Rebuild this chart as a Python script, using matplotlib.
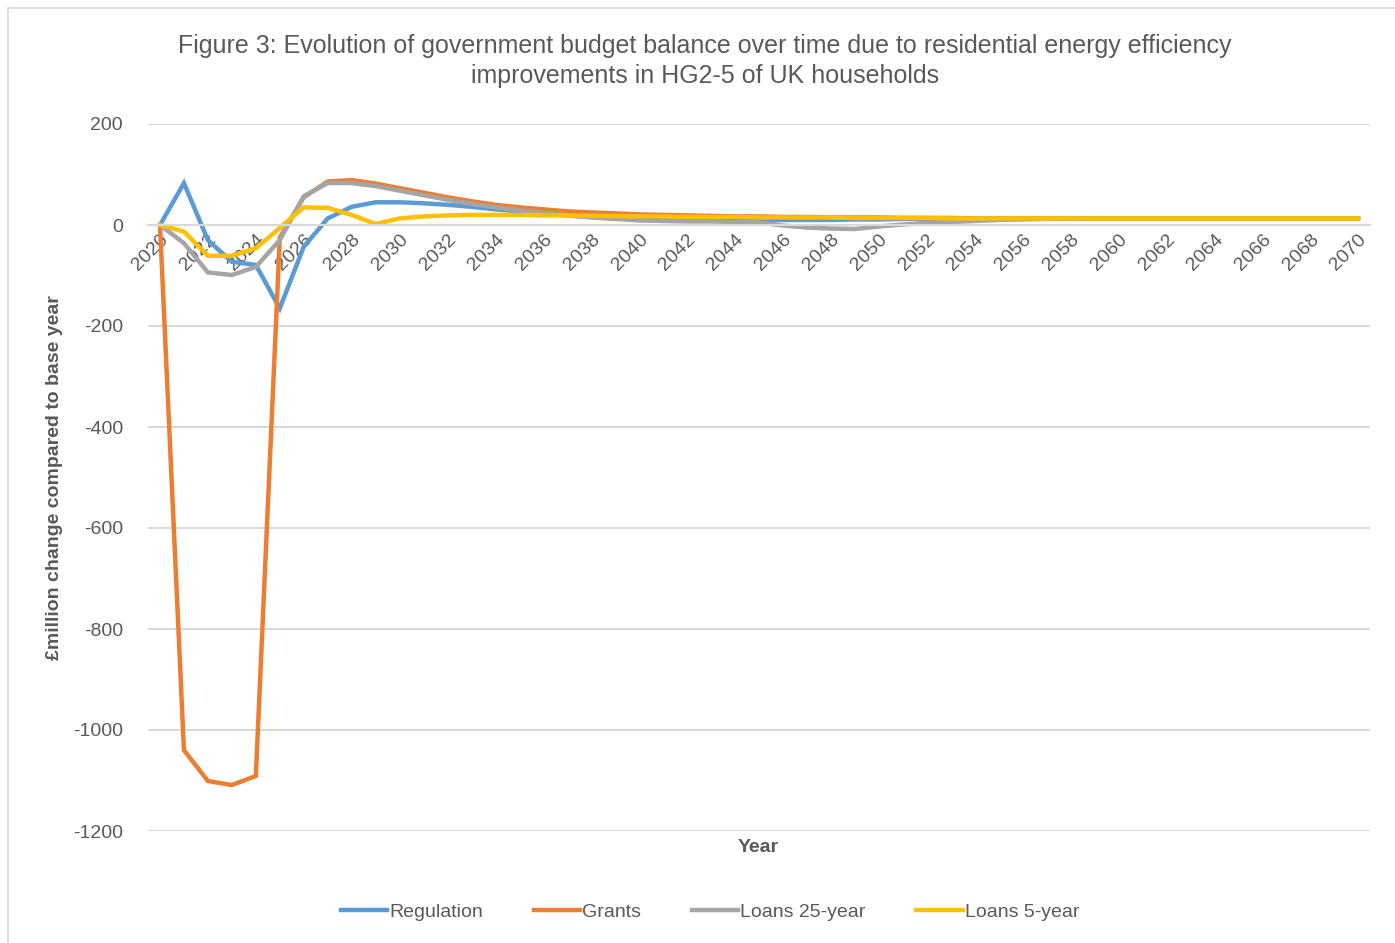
import matplotlib
matplotlib.use("Agg")
import matplotlib.pyplot as plt
from matplotlib.lines import Line2D
from matplotlib import font_manager

years = list(range(2020, 2071))

regulation = [0, 83, -30, -73, -79, -165, -43, 13, 36, 45,
              45, 43, 40, 36, 31, 27, 23, 19, 16, 13,
              11, 10, 9, 9, 9, 9, 10, 10, 10, 11,
              11, 12, 12, 12, 12, 12, 13, 13, 13, 13,
              13, 13, 13, 13, 13, 13, 13, 13, 13, 13, 13]

grants = [0, -1040, -1101, -1109, -1091, -25, 55, 86, 89, 82,
          73, 64, 55, 47, 40, 35, 31, 27, 25, 23,
          21, 20, 19, 18, 17, 17, 16, 16, 15, 15,
          15, 14, 14, 14, 13, 13, 13, 13, 13, 13,
          13, 13, 13, 13, 13, 13, 13, 13, 13, 13, 13]

loans_25 = [0, -36, -94, -99, -83, -30, 57, 83, 83, 77,
            68, 59, 50, 42, 35, 29, 24, 19, 15, 12,
            9, 8, 7, 7, 6, 5, -1, -5, -7, -8,
            -3, 1, 4, 6, 8, 10, 11, 12, 13, 13,
            13, 13, 13, 13, 13, 13, 13, 13, 13, 13, 13]

loans_5 = [0, -13, -61, -61, -46, -6, 35, 34, 20, 2,
           13, 17, 19, 20, 20, 20, 19, 19, 18, 18,
           17, 17, 16, 16, 16, 15, 15, 15, 15, 14,
           14, 14, 14, 13, 13, 13, 13, 13, 13, 13,
           13, 13, 13, 13, 13, 13, 13, 13, 13, 13, 13]

series = [("Regulation", regulation, "#5B9BD5"),
          ("Grants", grants, "#ED7D31"),
          ("Loans 25-year", loans_25, "#A5A5A5"),
          ("Loans 5-year", loans_5, "#FFC000")]

installed = {f.name for f in font_manager.fontManager.ttflist}
narrow = "Liberation Sans Narrow" if "Liberation Sans Narrow" in installed else "Liberation Sans"
plt.rcParams["font.family"] = [narrow, "DejaVu Sans"]

TEXT = "#595959"

fig = plt.figure(figsize=(13.95, 9.43), dpi=100)
ax = fig.add_axes([148 / 1395, 1 - 831 / 943, (1370 - 148) / 1395, (831 - 124) / 943])

# category axis crosses at zero, like the original
for s in ["top", "right", "left"]:
    ax.spines[s].set_visible(False)
ax.spines["bottom"].set_position(("data", 0))
ax.spines["bottom"].set_color("#D9D9D9")
ax.spines["bottom"].set_linewidth(1.5)

for name, vals, color in series:
    ax.plot(years, vals, color=color, lw=3.2, label=name, solid_joinstyle="miter")

ax.set_xlim(2019.5, 2070.5)
ax.set_ylim(-1200, 200)
ax.set_yticks(range(-1200, 201, 200))
ax.set_yticklabels([str(v) for v in range(-1200, 201, 200)], fontsize=14, color=TEXT)
ax.yaxis.grid(True, color="#D9D9D9", lw=1.5)
ax.set_axisbelow(True)

xt = years[::2]
ax.set_xticks(xt)
ax.set_xticklabels([str(y) for y in xt], rotation=45, ha="right", va="top",
                   rotation_mode="anchor", fontsize=14, color=TEXT)
ax.tick_params(axis="both", length=0)
ax.tick_params(axis="y", pad=18)
ax.tick_params(axis="x", pad=4)

fig.text(758 / 1395, 1 - 848 / 943, "Year", ha="center", va="center",
         fontsize=14, fontweight="bold", color=TEXT)
fig.text(55 / 1395, 1 - 478 / 943, "£million change compared to base year", ha="center",
         va="center", rotation=90, fontsize=14, fontweight="bold", color=TEXT)

fig.text(705 / 1395, 1 - 46 / 943, "Figure 3: Evolution of government budget balance over time due to residential energy efficiency",
         ha="center", va="center", fontsize=18, color=TEXT)
fig.text(705 / 1395, 1 - 76 / 943, "improvements in HG2-5 of UK households",
         ha="center", va="center", fontsize=18, color=TEXT)

leg = fig.legend(loc="center", bbox_to_anchor=(710 / 1395, 1 - 912 / 943), ncol=4,
                 frameon=False, fontsize=14, handlelength=2.4, handletextpad=0.1,
                 columnspacing=2.6)
for t in leg.get_texts():
    t.set_color(TEXT)

fig.add_artist(Line2D([8 / 1395, 1.0], [1 - 8 / 943, 1 - 8 / 943], color="#D9D9D9", lw=1.2))
fig.add_artist(Line2D([8 / 1395, 8 / 1395], [0.0, 1 - 8 / 943], color="#D9D9D9", lw=1.2))

fig.savefig("out.png", dpi=100)
